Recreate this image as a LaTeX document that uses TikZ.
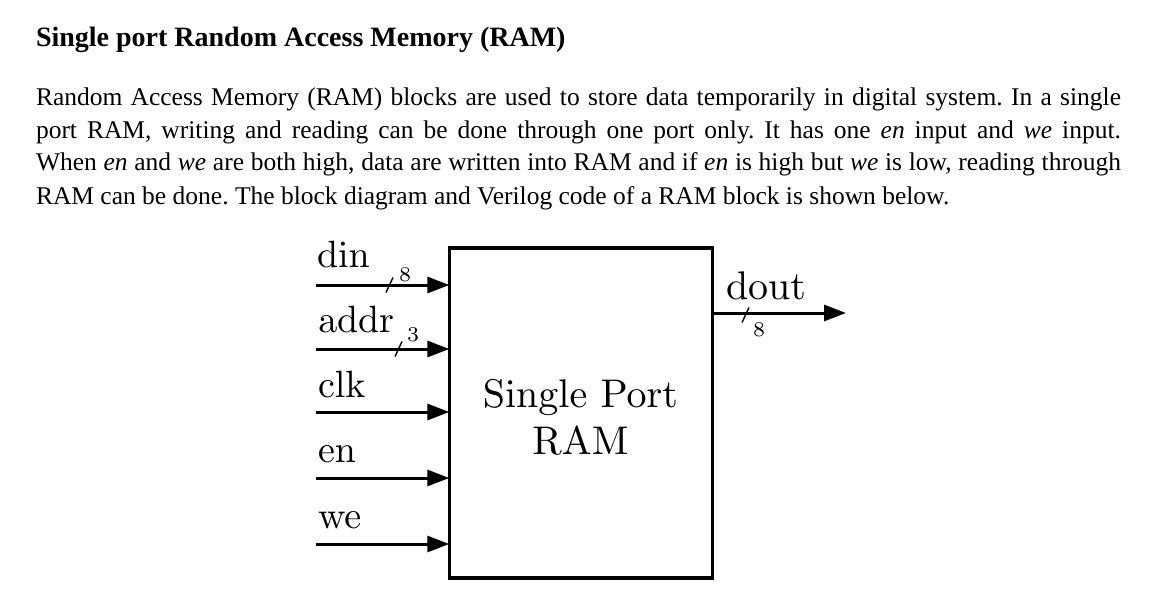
\documentclass[tikz,border=0pt]{standalone}
\usepackage{fontspec}
\setmainfont{Liberation Serif}
\usetikzlibrary{arrows.meta}
\font\labfont=cmr10 at 38pt
\font\boxfont=cmr10 at 40pt
\font\busfont=cmr7 at 21pt
\newcommand{\paraline}[1]{\hbox to 1085pt{#1}}
\frenchspacing
\begin{document}
\begin{tikzpicture}[x=1pt,y=-1pt,
  txt/.style={inner sep=0pt, outer sep=0pt, anchor=base west},
  para/.style={txt, font=\fontsize{25.5}{33}\selectfont},
  lab/.style={txt, font=\labfont},
  bus/.style={inner sep=0pt, font=\busfont},
  arr/.style={line width=3pt, -{Triangle[length=22pt,width=16pt]}},
  busslash/.style={line width=1.4pt},
  ramblock/.style={draw, line width=3.2pt, minimum width=263pt, minimum height=330pt, inner sep=0pt, outer sep=0pt}
]
\useasboundingbox[fill=white] (0,0) rectangle (1155,596);

% heading and paragraph
\node[txt, font=\bfseries\fontsize{28}{34}\selectfont] (head) at (36,47) {Single port Random Access Memory (RAM)};
\node[para] (p1) at (36,106) {\paraline{Random Access Memory (RAM) blocks are used to store data temporarily in digital system. In a single}};
\node[para] (p2) at (36,138.5) {\paraline{port RAM, writing and reading can be done through one port only. It has one \textit{en} input and \textit{we} input.}};
\node[para] (p3) at (36,171) {\paraline{When \textit{en} and \textit{we} are both high, data are written into RAM and if \textit{en} is high but \textit{we} is low, reading through}};
\node[para] (p4) at (36,204) {RAM can be done. The block diagram and Verilog code of a RAM block is shown below.};

% RAM block
\node[ramblock] (ram) at (580.8,413) {};
\node[anchor=base, inner sep=0pt, font=\boxfont] (t1) at (580.5,407) {Single Port};
\node[anchor=base, inner sep=0pt, font=\boxfont] (t2) at (580.5,454) {RAM};

% input labels
\node[lab] (ldin) at (317,267) {din};
\node[lab] (laddr) at (318,332) {addr};
\node[lab] (lclk) at (318,397) {clk};
\node[lab] (len) at (318,462) {en};
\node[lab] (lwe) at (318,528) {we};

% input start points
\coordinate (sdin) at (316,285);
\coordinate (saddr) at (316,349);
\coordinate (sclk) at (316,412);
\coordinate (sen) at (316,478);
\coordinate (swe) at (316,544);

\draw[arr] (sdin) -- (sdin -| ram.west);
\draw[arr] (saddr) -- (saddr -| ram.west);
\draw[arr] (sclk) -- (sclk -| ram.west);
\draw[arr] (sen) -- (sen -| ram.west);
\draw[arr] (swe) -- (swe -| ram.west);

% bus widths
\draw[busslash] (386,292.5) -- (393,277.5);
\node[bus] (w8a) at (405,275) {8};
\draw[busslash] (395,356.5) -- (402,341.5);
\node[bus] (w3) at (413,335) {3};

% output
\coordinate (edout) at (846,313);
\draw[arr] (ram.east |- edout) -- (edout);
\node[txt, font=\boxfont] (ldout) at (726,299.5) {dout};
\draw[busslash] (742,322.5) -- (749,307.5);
\node[bus] (w8b) at (759,330) {8};
\end{tikzpicture}
\end{document}
